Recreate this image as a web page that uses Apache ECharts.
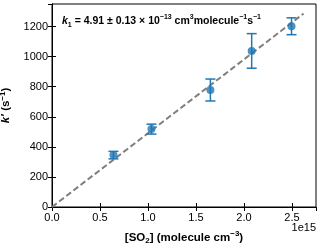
<!DOCTYPE html>
<html><head><meta charset="utf-8">
<script src="https://cdn.jsdelivr.net/npm/echarts@6/dist/echarts.min.js"></script>
<style>html,body{margin:0;padding:0;background:#fff}#c{width:320px;height:246px}</style>
</head><body><div id="c"></div>
<script>
const concX = [0.64e15, 1.036e15, 1.65e15, 2.08e15, 2.495e15];
const kPrime = [345, 518, 778, 1038, 1202];
const kErr = [25, 33, 73, 115, 56];
const fitX = [0, 2.62e15];
const fitY = [0, 1286];
const xTicks = ['0.0','0.5','1.0','1.5','2.0','2.5'];
const yTicks = [0,200,400,600,800,1000,1200];

const chart = echarts.init(document.getElementById('c'), null, {renderer:'canvas'});
const FONT = 'Liberation Sans, Arial, sans-serif';
const blue = '#1f77b4';
const baseAxis = {
  axisLine:{show:true,lineStyle:{color:'#000',width:1}},
  axisTick:{show:true,inside:true,length:4,lineStyle:{color:'#000',width:1}},
  splitLine:{show:false}
};
const option = {
  animation:false,
  grid:{left:52,right:4,top:4,bottom:39,show:true,borderColor:'#000',borderWidth:1,
        containLabel:false,outerBoundsMode:'none'},
  xAxis:[
    Object.assign({type:'value',min:0,max:2.75e15,interval:0.5e15,
      name:'{b|[SO}{sub|2}{b|] (molecule cm}{sup|−3}{b|)}',nameLocation:'middle',nameGap:23,
      nameTextStyle:{fontFamily:FONT,rich:{
        b:{fontSize:11.5,fontWeight:'bold',fontFamily:FONT,color:'#000',lineHeight:15},
        sub:{fontSize:8,fontWeight:'bold',fontFamily:FONT,color:'#000',verticalAlign:'bottom',lineHeight:15,padding:[4,0,0,0]},
        sup:{fontSize:8,fontWeight:'bold',fontFamily:FONT,color:'#000',verticalAlign:'top',lineHeight:15,padding:[0,0,6,0]}}},
      axisLabel:{color:'#000',fontFamily:FONT,fontSize:11,margin:5,showMaxLabel:false,
        formatter:v=>{const i=Math.round(v/0.5e15);return (Math.abs(v-i*0.5e15)<1e9&&i<xTicks.length&&v<2.6e15)?xTicks[i]:'';}}
    },baseAxis),
    Object.assign({type:'value',position:'top',min:0,max:2.75e15,interval:0.5e15,axisLabel:{show:false}},baseAxis)
  ],
  yAxis:[
    Object.assign({type:'value',min:0,max:1350,interval:200,
      name:'{i|k′} {b|(s}{sup|−1}{b|)}',nameLocation:'middle',nameGap:35,nameRotate:90,
      nameTextStyle:{fontFamily:FONT,rich:{
        i:{fontSize:11.5,fontWeight:'bold',fontStyle:'italic',fontFamily:FONT,color:'#000',lineHeight:15},
        b:{fontSize:11.5,fontWeight:'bold',fontFamily:FONT,color:'#000',lineHeight:15},
        sup:{fontSize:8,fontWeight:'bold',fontFamily:FONT,color:'#000',verticalAlign:'top',lineHeight:15,padding:[0,0,6,0]}}},
      axisLabel:{color:'#000',fontFamily:FONT,fontSize:11,margin:4,showMaxLabel:false,
        formatter:v=>yTicks.indexOf(v)>=0?String(v):''}
    },baseAxis),
    Object.assign({type:'value',position:'right',min:0,max:1350,interval:200,axisLabel:{show:false}},baseAxis)
  ],
  graphic:[
    {type:'text',right:4,top:222,style:{text:'1e15',font:'11px '+FONT,fill:'#000'}},
    {type:'text',left:62,top:14,style:{
      text:'{i|k}{sub|1}{b| = 4.91 ± 0.13 × 10}{sup|−13}{b| cm}{sup|3}{b|molecule}{sup|−1}{b|s}{sup|−1}',
      rich:{
        i:{fontSize:10.5,fontWeight:'bold',fontStyle:'italic',fontFamily:FONT,fill:'#000',lineHeight:15},
        b:{fontSize:10.5,fontWeight:'bold',fontFamily:FONT,fill:'#000',lineHeight:15},
        sub:{fontSize:7,fontWeight:'bold',fontFamily:FONT,fill:'#000',verticalAlign:'bottom',lineHeight:15,padding:[4,0,0,0]},
        sup:{fontSize:7,fontWeight:'bold',fontFamily:FONT,fill:'#000',verticalAlign:'top',lineHeight:15,padding:[0,0,6,0]}
      }}}
  ],
  series:[
    {type:'line',data:fitX.map((x,i)=>[x,fitY[i]]),symbol:'none',
      lineStyle:{color:'#7f7f7f',width:2,type:[6,3]},z:3},
    {type:'custom',z:4,data:concX.map((x,i)=>[x,kPrime[i]-kErr[i],kPrime[i]+kErr[i]]),
      renderItem:(params,api)=>{
        const lo=api.coord([api.value(0),api.value(1)]);
        const hi=api.coord([api.value(0),api.value(2)]);
        const w=5;
        const st={stroke:blue,lineWidth:1.5};
        return {type:'group',children:[
          {type:'line',shape:{x1:lo[0],y1:lo[1],x2:hi[0],y2:hi[1]},style:st},
          {type:'line',shape:{x1:lo[0]-w,y1:lo[1],x2:lo[0]+w,y2:lo[1]},style:st},
          {type:'line',shape:{x1:hi[0]-w,y1:hi[1],x2:hi[0]+w,y2:hi[1]},style:st}
        ]};
      }},
    {type:'scatter',z:5,data:concX.map((x,i)=>[x,kPrime[i]]),symbol:'circle',symbolSize:8,
      itemStyle:{color:blue}}
  ]
};
chart.setOption(option);
</script></body></html>
